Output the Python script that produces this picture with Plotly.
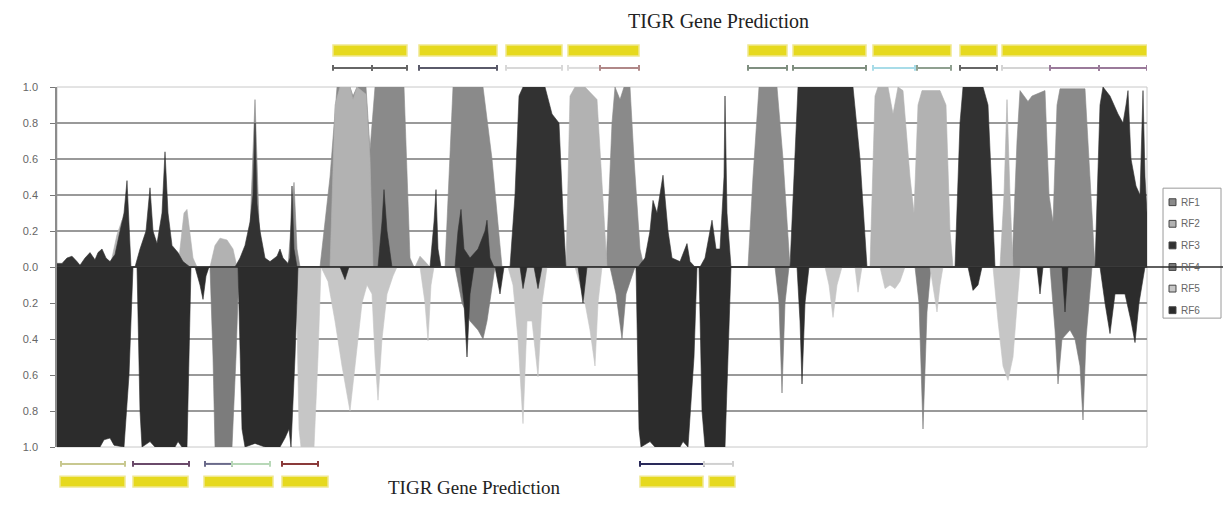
import plotly.graph_objects as go

# ---------------- data (window position along sequence, score) ----------------
RF1_x = [0, 188, 193, 198, 202, 206, 231, 237, 240, 243, 263, 273, 280, 293, 296, 300, 309, 313, 318, 347, 353, 357,
         388, 393, 396, 426, 435, 445, 549, 555, 558, 563, 567, 573, 577, 583, 587, 691, 696, 702, 720, 726, 733,
         955, 960, 963, 971, 975, 988, 992, 996, 1000, 1003, 1028, 1033, 1038, 1090]
RF1_y = [0, 0, 0.2, 0.93, 0.25, 0, 0, 0.47, 0.1, 0, 0, 0.5, 1, 1, 0.95, 1, 1, 0.65, 1, 1, 0.05, 0,
         0, 0.6, 1, 1, 0.6, 0, 0, 0.8, 1, 0.93, 1, 1, 0.6, 0.1, 0, 0, 0.5, 1, 1, 0.6, 0,
         0, 0.7, 0.98, 0.92, 0.95, 0.98, 0.4, 0.25, 0.9, 0.99, 0.99, 0.5, 0, 0]

RF2_x = [0, 53, 60, 65, 70, 73, 121, 127, 130, 136, 140, 153, 158, 163, 170, 176, 180,
         273, 278, 283, 293, 296, 300, 309, 313, 316, 358, 363, 368, 373,
         509, 513, 518, 528, 540, 546, 550,
         813, 818, 821, 831, 836, 841, 846, 853, 857, 861, 865, 883, 889, 893, 896,
         943, 947, 950, 953, 956, 1090]
RF2_y = [0, 0, 0.18, 0.26, 0.1, 0, 0, 0.3, 0.32, 0.05, 0, 0, 0.12, 0.16, 0.15, 0.1, 0,
         0, 0.9, 1, 1, 0.93, 1, 0.96, 0.6, 0, 0, 0.06, 0.03, 0,
         0, 0.95, 1, 1, 0.93, 0.4, 0,
         0, 0.95, 1, 1, 0.85, 1, 0.98, 0.5, 0.3, 0.9, 0.98, 0.98, 0.9, 0.2, 0,
         0, 0.4, 0.93, 0.4, 0, 0]

RF3_x = [0, 5, 10, 15, 20, 23, 28, 33, 38, 41, 45, 49, 53, 58, 63, 67, 70, 72, 74,
         78, 83, 89, 93, 96, 100, 105, 108, 111, 115, 121, 126, 133,
         178, 183, 188, 193, 196, 198, 200, 203, 208, 213, 220, 223, 226, 231, 233, 235, 237, 240,
         321, 325, 327, 330, 335, 373, 377, 379, 381, 384,
         398, 401, 404, 407, 413, 421, 428, 430, 433, 437,
         453, 458, 462, 466, 488, 495, 502, 506, 509,
         581, 588, 593, 596, 600, 606, 611, 615, 623, 628, 630, 633, 638,
         643, 648, 653, 655, 659, 663, 667, 668, 670, 674,
         733, 738, 741, 796, 803, 810,
         898, 903, 906, 926, 931, 935, 938,
         1038, 1043, 1046, 1053, 1061, 1066, 1069, 1071, 1074, 1079, 1083, 1086, 1088, 1090]
RF3_y = [0.02, 0.02, 0.05, 0.06, 0.03, 0.01, 0.05, 0.08, 0.04, 0.08, 0.1, 0.05, 0.03, 0.07, 0.2, 0.3, 0.48, 0.25, 0,
         0, 0.1, 0.2, 0.44, 0.2, 0.13, 0.3, 0.64, 0.3, 0.12, 0.08, 0.03, 0,
         0, 0.05, 0.12, 0.25, 0.4, 0.8, 0.35, 0.2, 0.05, 0.03, 0.06, 0.1, 0.05, 0.02, 0.05, 0.45, 0.1, 0,
         0, 0.25, 0.43, 0.2, 0, 0, 0.25, 0.43, 0.1, 0,
         0, 0.2, 0.32, 0.1, 0.05, 0.1, 0.2, 0.26, 0.05, 0,
         0, 0.4, 0.95, 1, 1, 0.85, 0.8, 0.3, 0,
         0, 0.05, 0.2, 0.37, 0.3, 0.51, 0.2, 0.05, 0.03, 0.1, 0.13, 0.03, 0,
         0, 0.05, 0.2, 0.26, 0.1, 0.1, 0.5, 0.95, 0.3, 0,
         0, 0.6, 1, 1, 0.6, 0,
         0, 0.8, 1, 1, 0.9, 0.4, 0,
         0, 0.9, 1, 0.95, 0.85, 0.8, 0.9, 0.98, 0.6, 0.45, 0.4, 0.98, 0.5, 0.3]

RF4_x = [0, 153, 156, 158, 175, 179, 182,
         398, 405, 413, 421, 426, 430, 435, 438,
         553, 559, 565, 569, 575, 578,
         718, 722, 725, 728, 732,
         858, 862, 866, 870, 874,
         993, 998, 1001, 1005, 1013, 1018, 1023, 1026, 1029, 1035, 1090]
RF4_y = [0, 0, -0.5, -1, -1, -0.5, 0,
         0, -0.2, -0.3, -0.35, -0.4, -0.3, -0.1, 0,
         0, -0.15, -0.4, -0.15, -0.05, 0,
         0, -0.2, -0.7, -0.2, 0,
         0, -0.2, -0.9, -0.25, 0,
         0, -0.35, -0.65, -0.4, -0.35, -0.4, -0.55, -0.85, -0.4, 0, 0]

RF5_x = [0, 239, 242, 244, 257, 261, 264,
         271, 278, 285, 293, 299, 305, 310, 315, 318, 321, 325, 330, 336, 340,
         363, 368, 371, 374, 377,
         451, 456, 461, 466, 470, 475, 481, 485, 490,
         518, 523, 528, 533, 538, 541, 545,
         768, 772, 776, 780, 785, 798, 801, 805,
         823, 828, 833, 838, 843, 848,
         873, 877, 880, 883, 886,
         936, 941, 946, 951, 956, 960, 963, 1090]
RF5_y = [0, 0, -0.9, -1, -1, -0.5, 0,
         -0.08, -0.3, -0.55, -0.8, -0.5, -0.2, -0.1, -0.15, -0.5, -0.74, -0.4, -0.15, -0.05, 0,
         0, -0.2, -0.41, -0.1, 0,
         0, -0.1, -0.4, -0.87, -0.3, -0.3, -0.61, -0.2, 0,
         0, -0.1, -0.2, -0.35, -0.55, -0.2, 0,
         0, -0.1, -0.28, -0.1, 0, 0, -0.14, 0,
         0, -0.12, -0.1, -0.12, -0.08, 0,
         0, -0.15, -0.25, -0.1, 0,
         0, -0.3, -0.55, -0.63, -0.5, -0.2, 0, 0]

RF6_x = [0, 43, 47, 53, 57, 67, 72, 76,
         80, 83, 85, 93, 98, 118, 121, 125, 130, 134,
         138, 143, 146, 149, 152,
         181, 185, 188, 198, 208, 223, 228, 232, 234, 238, 241,
         283, 288, 292, 403, 407, 410, 413, 417, 438, 443, 447,
         463, 466, 470, 477, 481, 485, 521, 526, 530,
         579, 582, 584, 593, 598, 623, 626, 631, 637, 640,
         642, 645, 648, 668, 671, 674,
         740, 743, 745, 748, 752,
         911, 916, 921, 925, 980, 983, 986, 1005, 1008, 1011,
         1043, 1048, 1053, 1058, 1068, 1074, 1078, 1082, 1088, 1090]
RF6_y = [-1, -1, -0.96, -0.95, -0.99, -1, -0.6, 0,
         0, -0.8, -1, -0.97, -1, -1, -0.97, -1, -1, 0,
         0, -0.1, -0.18, -0.05, 0,
         0, -0.9, -1, -0.98, -1, -1, -0.95, -0.9, -1, -0.5, 0,
         0, -0.07, 0, 0, -0.2, -0.5, -0.15, 0, 0, -0.15, 0,
         0, -0.12, 0, 0, -0.12, 0, 0, -0.2, 0,
         0, -0.9, -1, -0.97, -1, -1, -0.97, -1, -0.5, 0,
         0, -0.8, -1, -1, -0.5, 0,
         0, -0.3, -0.65, -0.2, 0,
         0, -0.13, -0.1, 0, 0, -0.15, 0, 0, -0.25, 0,
         0, -0.2, -0.37, -0.15, -0.15, -0.3, -0.42, -0.2, 0, 0]

series_names = ["RF1", "RF2", "RF3", "RF4", "RF5", "RF6"]
series_colors = ["#8a8a8a", "#b2b2b2", "#323232", "#7c7c7c", "#c6c6c6", "#2c2c2c"]

y_ticks = [1.0, 0.8, 0.6, 0.4, 0.2, 0.0, -0.2, -0.4, -0.6, -0.8, -1.0]
y_ticktext = ["1.0", "0.8", "0.6", "0.4", "0.2", "0.0", "0.2", "0.4", "0.6", "0.8", "1.0"]

# TIGR gene predictions (start, end)
top_genes = [(276, 350), (362, 440), (449, 505), (511, 582), (691, 730), (736, 809), (816, 894), (903, 940), (945, 1090)]
bottom_genes = [(3, 68), (76, 131), (147, 216), (225, 271), (583, 646), (652, 678)]
top_orfs = [(276, 315, "#666666"), (315, 350, "#666666"), (362, 440, "#5a5a6a"), (449, 505, "#d8d8d8"),
            (511, 543, "#dcdcdc"), (543, 582, "#b08888"), (691, 730, "#7f8f80"), (736, 809, "#7f8f80"),
            (816, 858, "#a8dce8"), (860, 894, "#8fa090"), (903, 940, "#666666"), (945, 993, "#d4d4d4"),
            (993, 1042, "#9a7a9a"), (1042, 1090, "#9a7a9a")]
bottom_orfs = [(4, 68, "#c8c890"), (76, 132, "#6a4a6a"), (148, 175, "#6a6a8a"), (175, 213, "#b8d8b8"),
               (225, 261, "#8a3a3a"), (583, 647, "#2a2a5a"), (647, 676, "#d0d0d0")]

# ---------------- figure ----------------
fig = go.Figure()
all_x = [RF1_x, RF2_x, RF3_x, RF4_x, RF5_x, RF6_x]
all_y = [RF1_y, RF2_y, RF3_y, RF4_y, RF5_y, RF6_y]
for name, col, xs, ys in zip(series_names, series_colors, all_x, all_y):
    fig.add_trace(go.Scatter(x=xs, y=ys, name=name, mode="lines", fill="tozeroy",
                             fillcolor=col, line=dict(color=col, width=0.6), showlegend=False))

shapes = []
annotations = []
# plot frame
shapes.append(dict(type="rect", xref="paper", yref="paper", x0=0, x1=1, y0=0, y1=1,
                   line=dict(color="#c8c8c8", width=1), layer="below"))

# legend drawn as box + swatches + labels
LEG_X0, LEG_X1, LEG_Y0, LEG_Y1 = 1.0147, 1.0679, 0.358, 0.719
shapes.append(dict(type="rect", xref="paper", yref="paper", x0=LEG_X0, x1=LEG_X1, y0=LEG_Y0, y1=LEG_Y1,
                   line=dict(color="#9a9a9a", width=1), fillcolor="white"))
for i, (name, col) in enumerate(zip(series_names, series_colors)):
    yc = LEG_Y1 - 0.039 - i * 0.06
    shapes.append(dict(type="rect", xref="paper", yref="paper", x0=1.0202, x1=1.0266,
                       y0=yc - 0.0095, y1=yc + 0.0095, fillcolor=col, line=dict(color="#444444", width=1)))
    annotations.append(dict(text=name, xref="paper", yref="paper", x=1.0298, y=yc, xanchor="left",
                            yanchor="middle", showarrow=False,
                            font=dict(family="Liberation Sans, Arial, sans-serif", size=10, color="#666666")))

# zero line extended across legend
shapes.append(dict(type="line", xref="paper", yref="y", x0=0, x1=1.07, y0=0, y1=0,
                   line=dict(color="#2a2a2a", width=1.5), layer="above"))

YEL = "#e6d91e"
for s, e in top_genes:
    shapes.append(dict(type="rect", xref="x", yref="paper", x0=s, x1=e, y0=1.086, y1=1.117,
                       fillcolor=YEL, line=dict(color="#f0e890", width=1.5)))
for s, e in bottom_genes:
    shapes.append(dict(type="rect", xref="x", yref="paper", x0=s, x1=e, y0=-0.111, y1=-0.081,
                       fillcolor=YEL, line=dict(color="#f0e890", width=1.5)))

def orf(s, e, c, yc):
    shapes.append(dict(type="line", xref="x", yref="paper", x0=s, x1=e, y0=yc, y1=yc,
                       line=dict(color=c, width=2)))
    for xx in (s, e):
        shapes.append(dict(type="line", xref="x", yref="paper", x0=xx, x1=xx, y0=yc - 0.008, y1=yc + 0.008,
                           line=dict(color=c, width=2)))

for s, e, c in top_orfs:
    orf(s, e, c, 1.053)
for s, e, c in bottom_orfs:
    orf(s, e, c, -0.047)

annotations += [
    dict(text="TIGR Gene Prediction", xref="paper", yref="paper", x=0.607, y=1.183, xanchor="center",
         yanchor="middle", showarrow=False,
         font=dict(family="Liberation Serif, Times New Roman, serif", size=20, color="#222222")),
    dict(text="TIGR Gene Prediction", xref="paper", yref="paper", x=0.3826, y=-0.113, xanchor="center",
         yanchor="middle", showarrow=False,
         font=dict(family="Liberation Serif, Times New Roman, serif", size=19, color="#222222")),
]

# page body has an 8px margin: figure sized to fit the 1231x509 window exactly
fig.update_layout(
    width=1215, height=493,
    margin=dict(l=49, r=76, t=79, b=54, autoexpand=False),
    paper_bgcolor="white", plot_bgcolor="white",
    shapes=shapes, annotations=annotations,
    showlegend=False,
    xaxis=dict(range=[0, 1090], showgrid=False, zeroline=False, showticklabels=False, ticks="",
               showline=False, fixedrange=True, automargin=False),
    yaxis=dict(range=[-1.0, 1.0], tickvals=y_ticks, ticktext=y_ticktext,
               showgrid=True, gridcolor="#999999", gridwidth=1.5, zeroline=False,
               showline=True, linecolor="#8c8c8c", linewidth=1.5,
               ticks="outside", ticklen=5, tickcolor="#777777", ticklabelstandoff=10,
               tickfont=dict(family="Liberation Sans, Arial, sans-serif", size=11, color="#666666"),
               fixedrange=True, automargin=False),
)

fig.write_html("out.html")
